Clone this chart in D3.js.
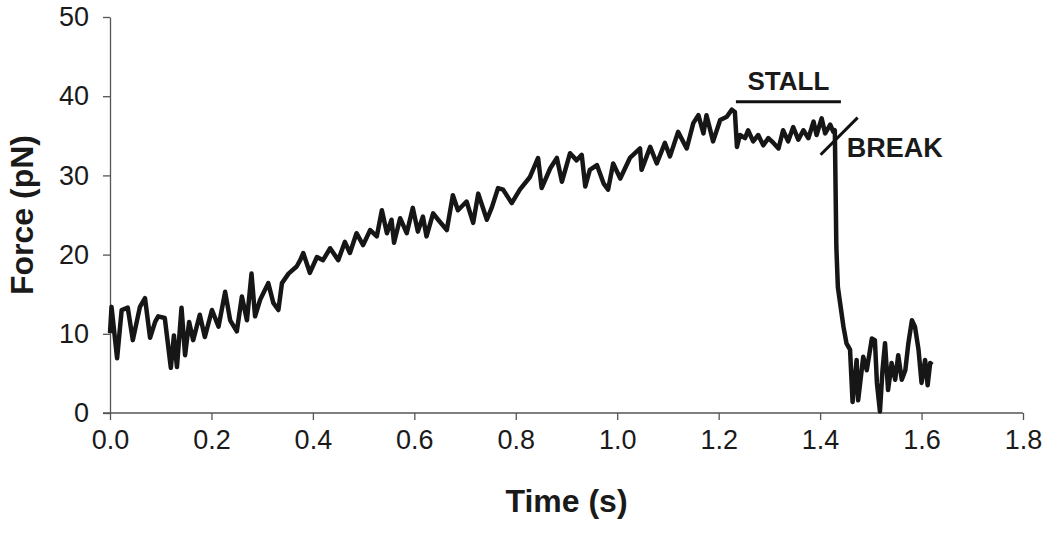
<!DOCTYPE html>
<html>
<head>
<meta charset="utf-8">
<script src="https://cdn.jsdelivr.net/npm/d3@7"></script>
<style>
  body { margin: 0; background: #fff; }
  svg text { font-family: "Liberation Sans", Arial, sans-serif; fill: #1a1a1a; }
</style>
</head>
<body>
<div id="chart"></div>
<script>
// force trace: time (s), force (pN)
const times = [
  0.000, 0.003, 0.014, 0.023, 0.035, 0.045, 0.059, 0.069, 0.079, 0.089,
  0.095, 0.108, 0.120, 0.126, 0.132, 0.141, 0.148, 0.156, 0.164, 0.177,
  0.187, 0.201, 0.214, 0.227, 0.237, 0.250, 0.260, 0.270, 0.279, 0.286,
  0.296, 0.312, 0.322, 0.332, 0.339, 0.352, 0.368, 0.375, 0.381, 0.394,
  0.408, 0.420, 0.434, 0.450, 0.463, 0.473, 0.486, 0.499, 0.513, 0.526,
  0.536, 0.546, 0.555, 0.560, 0.572, 0.585, 0.597, 0.607, 0.617, 0.624,
  0.637, 0.647, 0.664, 0.676, 0.686, 0.703, 0.716, 0.726, 0.743, 0.753,
  0.765, 0.775, 0.792, 0.808, 0.828, 0.844, 0.851, 0.868, 0.881, 0.891,
  0.907, 0.920, 0.930, 0.937, 0.946, 0.960, 0.973, 0.982, 0.992, 1.006,
  1.025, 1.045, 1.048, 1.065, 1.078, 1.094, 1.104, 1.120, 1.137, 1.150,
  1.160, 1.170, 1.176, 1.189, 1.203, 1.216, 1.226, 1.232, 1.236, 1.242,
  1.252, 1.258, 1.268, 1.278, 1.288, 1.298, 1.308, 1.318, 1.327, 1.337,
  1.347, 1.357, 1.367, 1.377, 1.387, 1.393, 1.403, 1.410, 1.420, 1.426,
  1.429, 1.432, 1.435, 1.446, 1.452, 1.459, 1.464, 1.472, 1.475, 1.485,
  1.492, 1.502, 1.508, 1.512, 1.518, 1.523, 1.528, 1.534, 1.541, 1.548,
  1.554, 1.561, 1.568, 1.574, 1.581, 1.587, 1.594, 1.600, 1.607, 1.612,
  1.617, 1.621
];
const force = [
  10.1, 13.4, 6.9, 13.0, 13.3, 9.2, 13.4, 14.5, 9.5, 11.5,
  12.2, 12.0, 5.7, 9.8, 5.8, 13.3, 7.3, 11.5, 9.2, 12.4,
  9.6, 13.0, 10.9, 15.3, 11.7, 10.3, 14.7, 11.7, 17.6, 12.2,
  14.3, 16.4, 13.9, 13.0, 16.4, 17.6, 18.5, 19.3, 20.2, 17.7,
  19.7, 19.3, 20.8, 19.3, 21.6, 20.2, 22.7, 21.2, 23.1, 22.3,
  25.6, 22.7, 24.4, 21.5, 24.6, 22.7, 25.9, 22.9, 24.8, 22.3,
  25.2, 24.4, 23.1, 27.5, 25.6, 26.7, 24.0, 27.7, 24.4, 26.0,
  28.4, 28.2, 26.5, 28.2, 29.8, 32.2, 28.4, 30.9, 32.2, 29.2,
  32.8, 31.9, 32.6, 28.6, 30.7, 31.3, 29.0, 28.2, 31.5, 29.6,
  32.2, 33.4, 30.7, 33.6, 31.5, 34.1, 32.4, 35.5, 33.4, 36.6,
  37.6, 35.3, 37.6, 34.3, 37.0, 37.4, 38.3, 38.0, 33.6, 35.1,
  34.7, 35.7, 34.3, 35.1, 33.8, 34.7, 34.1, 33.4, 35.7, 34.3,
  36.1, 34.5, 35.7, 34.7, 36.8, 35.1, 37.2, 35.3, 36.4, 35.5,
  35.7, 21.0, 15.9, 10.9, 8.8, 8.0, 1.4, 6.7, 1.6, 7.1,
  5.4, 9.4, 9.2, 3.8, 0.2, 5.4, 8.8, 2.9, 6.3, 4.2,
  7.3, 4.2, 5.4, 8.8, 11.7, 10.9, 8.0, 3.8, 6.7, 3.5,
  6.3, 6.1
];
const xTicks = [0, 0.2, 0.4, 0.6, 0.8, 1.0, 1.2, 1.4, 1.6, 1.8];
const yTicks = [0, 10, 20, 30, 40, 50];
// annotations: stall bar (time span, force level) and break slash (two ends)
const stallSpan = [1.234, 1.441];
const stallLevel = 39.3;
const breakMark = [[1.401, 32.6], [1.474, 37.3]];

const W = 1050, H = 534;
const margin = {top: 17, right: 27, bottom: 121, left: 110};

const svg = d3.select("#chart").append("svg")
  .attr("width", W)
  .attr("height", H);

const x = d3.scaleLinear().domain([0, 1.8]).range([margin.left, W - margin.right]);
const y = d3.scaleLinear().domain([0, 50]).range([H - margin.bottom, margin.top]);

const axisColor = "#555";

// x axis
const gx = svg.append("g")
  .attr("transform", "translate(0," + y(0) + ")")
  .call(d3.axisBottom(x).tickValues(xTicks).tickFormat(d3.format(".1f"))
    .tickSize(7).tickSizeOuter(0).tickPadding(10));
gx.select(".domain").remove();
gx.append("line")
  .attr("x1", x(0) - 7).attr("x2", x(1.8))
  .attr("stroke", axisColor).attr("stroke-width", 1.3);
gx.selectAll(".tick line").attr("stroke", axisColor).attr("stroke-width", 1.3);
gx.selectAll(".tick text").style("font-size", "27px").attr("fill", "#1a1a1a");

// y axis
const gy = svg.append("g")
  .attr("transform", "translate(" + x(0) + ",0)")
  .call(d3.axisLeft(y).tickValues(yTicks).tickFormat(d3.format("d"))
    .tickSize(7).tickSizeOuter(0).tickPadding(14));
gy.select(".domain").attr("stroke", axisColor).attr("stroke-width", 1.3);
gy.selectAll(".tick line").attr("stroke", axisColor).attr("stroke-width", 1.3);
gy.selectAll(".tick text").style("font-size", "27px").attr("fill", "#1a1a1a");

// axis titles
svg.append("text")
  .attr("x", (x(0) + x(1.8)) / 2)
  .attr("y", 512)
  .attr("text-anchor", "middle")
  .style("font-size", "32px")
  .style("font-weight", "bold")
  .text("Time (s)");

svg.append("text")
  .attr("transform", "translate(33," + (y(0) + y(50)) / 2 + ") rotate(-90)")
  .attr("text-anchor", "middle")
  .style("font-size", "32px")
  .style("font-weight", "bold")
  .text("Force (pN)");

// trace
const line = d3.line()
  .x(function(d, i) { return x(times[i]); })
  .y(function(d) { return y(d); });

svg.append("path")
  .datum(force)
  .attr("fill", "none")
  .attr("stroke", "#161616")
  .attr("stroke-width", 4.5)
  .attr("stroke-linejoin", "round")
  .attr("d", line);

// STALL bar and label
svg.append("line")
  .attr("x1", x(stallSpan[0])).attr("x2", x(stallSpan[1]))
  .attr("y1", y(stallLevel)).attr("y2", y(stallLevel))
  .attr("stroke", "#111").attr("stroke-width", 3);
svg.append("text")
  .attr("x", (x(stallSpan[0]) + x(stallSpan[1])) / 2)
  .attr("y", y(stallLevel) - 12)
  .attr("text-anchor", "middle")
  .style("font-size", "26px")
  .style("font-weight", "bold")
  .text("STALL");

// BREAK slash and label
svg.append("line")
  .attr("x1", x(breakMark[0][0])).attr("y1", y(breakMark[0][1]))
  .attr("x2", x(breakMark[1][0])).attr("y2", y(breakMark[1][1]))
  .attr("stroke", "#111").attr("stroke-width", 3);
svg.append("text")
  .attr("x", x(breakMark[1][0]) - 11)
  .attr("y", y(breakMark[0][1]) + 2)
  .style("font-size", "27px")
  .style("font-weight", "bold")
  .text("BREAK");
</script>
</body>
</html>
